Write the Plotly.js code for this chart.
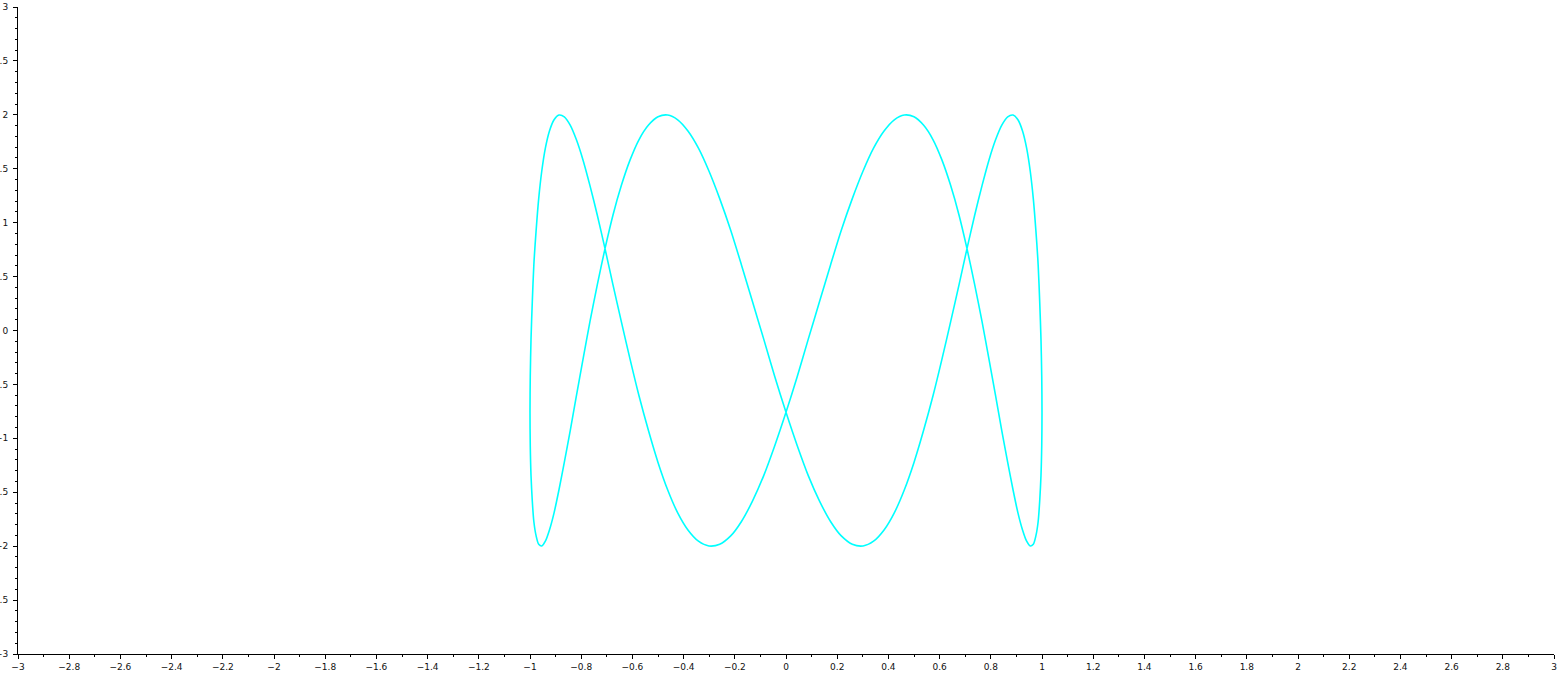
<!DOCTYPE html>
<html>
<head>
<meta charset="utf-8">
<script src="https://cdn.plot.ly/plotly-3.0.1.min.js"></script>
<style>
  html, body { margin: 0; padding: 0; background: #fff; }
  #chart { width: 1566px; height: 677px; }
</style>
</head>
<body>
<div id="chart"></div>
<script>
// Points (x, y)
const curveX = [
  1.000, 0.999, 0.996, 0.991, 0.985, 0.976, 0.966, 0.954, 0.940, 0.924,
  0.906, 0.887, 0.866, 0.843, 0.819, 0.793, 0.766, 0.737, 0.707, 0.676,
  0.643, 0.609, 0.574, 0.537, 0.500, 0.462, 0.423, 0.383, 0.342, 0.301,
  0.259, 0.216, 0.174, 0.131, 0.087, 0.044, 0.000,
  -0.044, -0.087, -0.131, -0.174, -0.216, -0.259, -0.301, -0.342, -0.383, -0.423,
  -0.462, -0.500, -0.537, -0.574, -0.609, -0.643, -0.676, -0.707, -0.737, -0.766,
  -0.793, -0.819, -0.843, -0.866, -0.887, -0.906, -0.924, -0.940, -0.954, -0.966,
  -0.976, -0.985, -0.991, -0.996, -0.999, -1.000,
  -0.999, -0.996, -0.991, -0.985, -0.976, -0.966, -0.954, -0.940, -0.924, -0.906,
  -0.887, -0.866, -0.843, -0.819, -0.793, -0.766, -0.737, -0.707, -0.676, -0.643,
  -0.609, -0.574, -0.537, -0.500, -0.462, -0.423, -0.383, -0.342, -0.301, -0.259,
  -0.216, -0.174, -0.131, -0.087, -0.044, 0.000,
  0.044, 0.087, 0.131, 0.174, 0.216, 0.259, 0.301, 0.342, 0.383, 0.423,
  0.462, 0.500, 0.537, 0.574, 0.609, 0.643, 0.676, 0.707, 0.737, 0.766,
  0.793, 0.819, 0.843, 0.866, 0.887, 0.906, 0.924, 0.940, 0.954, 0.966,
  0.976, 0.985, 0.991, 0.996, 0.999, 1.000
];
const curveY = [
  -0.759, -0.426, -0.080, 0.268, 0.608, 0.930, 1.223, 1.479, 1.691, 1.850,
  1.954, 1.998, 1.982, 1.905, 1.771, 1.582, 1.346, 1.069, 0.759, 0.426,
  0.080, -0.268, -0.608, -0.930, -1.223, -1.479, -1.691, -1.850, -1.954, -1.998,
  -1.982, -1.905, -1.771, -1.582, -1.346, -1.069,
  -0.759, -0.426, -0.080, 0.268, 0.608, 0.930, 1.223, 1.479, 1.691, 1.850,
  1.954, 1.998, 1.982, 1.905, 1.771, 1.582, 1.346, 1.069, 0.759, 0.426,
  0.080, -0.268, -0.608, -0.930, -1.223, -1.479, -1.691, -1.850, -1.954, -1.998,
  -1.982, -1.905, -1.771, -1.582, -1.346, -1.069,
  -0.759, -0.426, -0.080, 0.268, 0.608, 0.930, 1.223, 1.479, 1.691, 1.850,
  1.954, 1.998, 1.982, 1.905, 1.771, 1.582, 1.346, 1.069, 0.759, 0.426,
  0.080, -0.268, -0.608, -0.930, -1.223, -1.479, -1.691, -1.850, -1.954, -1.998,
  -1.982, -1.905, -1.771, -1.582, -1.346, -1.069,
  -0.759, -0.426, -0.080, 0.268, 0.608, 0.930, 1.223, 1.479, 1.691, 1.850,
  1.954, 1.998, 1.982, 1.905, 1.771, 1.582, 1.346, 1.069, 0.759, 0.426,
  0.080, -0.268, -0.608, -0.930, -1.223, -1.479, -1.691, -1.850, -1.954, -1.998,
  -1.982, -1.905, -1.771, -1.582, -1.346, -1.069,
  -0.759
];
const xRange = [-3, 3];
const yRange = [-3, 3];

const trace = {
  x: curveX,
  y: curveY,
  type: 'scatter',
  mode: 'lines',
  line: { color: '#00FFFF', width: 1.6, shape: 'spline', smoothing: 0.8 },
  hoverinfo: 'skip'
};

const tickFont = { family: 'DejaVu Sans, sans-serif', size: 9, color: '#111' };

const layout = {
  width: 1566,
  height: 677,
  margin: { l: 18, r: 12, t: 7, b: 23, pad: 0 },
  paper_bgcolor: '#ffffff',
  plot_bgcolor: '#ffffff',
  showlegend: false,
  xaxis: {
    range: xRange,
    dtick: 0.2,
    tick0: -3,
    ticks: 'outside',
    ticklen: 4,
    tickwidth: 1,
    tickcolor: '#000',
    showline: true,
    linecolor: '#000',
    linewidth: 1,
    showgrid: false,
    zeroline: false,
    tickfont: tickFont,
    minor: { dtick: 0.1, tick0: -3, ticks: 'outside', ticklen: 2, tickcolor: '#000', showgrid: false },
    fixedrange: true
  },
  yaxis: {
    range: yRange,
    dtick: 0.5,
    tick0: -3,
    ticks: 'outside',
    ticklen: 4,
    tickwidth: 1,
    tickcolor: '#000',
    showline: true,
    linecolor: '#000',
    linewidth: 1,
    showgrid: false,
    zeroline: false,
    tickfont: tickFont,
    ticklabelstandoff: 3,
    minor: { dtick: 0.1, tick0: -3, ticks: 'outside', ticklen: 2, tickcolor: '#000', showgrid: false },
    fixedrange: true
  }
};

Plotly.newPlot('chart', [trace], layout, { displayModeBar: false, staticPlot: true });
</script>
</body>
</html>
